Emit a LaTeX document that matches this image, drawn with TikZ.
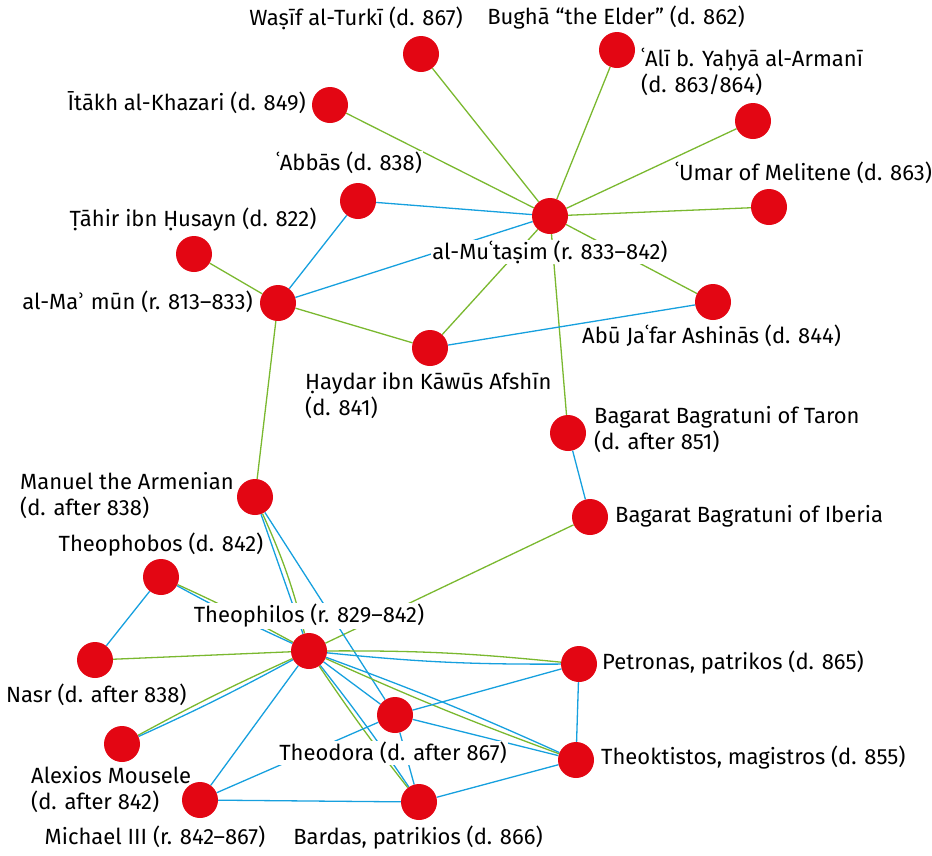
\documentclass[tikz,border=0pt]{standalone}
\usepackage{fontspec}
\setmainfont{Fira Sans}
\newfontfamily\dejavu{DejaVu Sans}
\usetikzlibrary{positioning}
\definecolor{dotred}{RGB}{227,6,19}
\definecolor{lgreen}{RGB}{122,184,47}
\definecolor{lblue}{RGB}{22,160,222}
\pgfdeclarelayer{background}
\pgfsetlayers{background,main}

\begin{document}
\begin{tikzpicture}[x=1pt, y=-1pt,
    person/.style={circle, fill=dotred, minimum size=36pt, inner sep=0pt},
    who/.style={fill=white, inner sep=1pt, font=\fontsize{22}{26}\selectfont, align=left},
    gline/.style={lgreen, line width=1.3pt},
    bline/.style={lblue, line width=1.3pt}]
    \useasboundingbox (0,0) rectangle (932,855);
    % the people
    \node (wasif) at (421,54) [person] {};
    \node (bugha) at (617,50) [person] {};
    \node (ali) at (753,121) [person] {};
    \node (itakh) at (330,105) [person] {};
    \node (abbas) at (358,201) [person] {};
    \node (tahir) at (194,254) [person] {};
    \node (mutasim) at (550,216) [person] {};
    \node (umar) at (769,207) [person] {};
    \node (abujafar) at (713,302) [person] {};
    \node (mamun) at (278,303) [person] {};
    \node (haydar) at (430,348) [person] {};
    \node (taron) at (568,433) [person] {};
    \node (iberia) at (590,517) [person] {};
    \node (manuel) at (255,497) [person] {};
    \node (theophobos) at (161,577) [person] {};
    \node (theophilos) at (309,651) [person] {};
    \node (nasr) at (95,660) [person] {};
    \node (alexios) at (122,744) [person] {};
    \node (michael) at (200,800) [person] {};
    \node (theodora) at (395,715) [person] {};
    \node (bardas) at (419,802) [person] {};
    \node (petronas) at (579,664) [person] {};
    \node (theoktistos) at (576,760) [person] {};

    \begin{pgfonlayer}{background}
    % Abbasid side
    \draw[gline] (mutasim) -- (wasif);
    \draw[gline] (mutasim) -- (bugha);
    \draw[gline] (mutasim) -- (ali);
    \draw[gline] (mutasim) -- (itakh);
    \draw[gline] (mutasim) -- (umar);
    \draw[gline] (mutasim) -- (abujafar);
    \draw[gline] (mutasim) -- (haydar);
    \draw[gline] (mutasim) -- (taron);
    \draw[bline] (mutasim) -- (abbas);
    \draw[bline] (mutasim) -- (mamun);
    \draw[gline] (mamun) -- (tahir);
    \draw[bline] (mamun) -- (abbas);
    \draw[gline] (mamun) -- (haydar);
    \draw[gline] (mamun) -- (manuel);
    \draw[bline] (haydar) -- (abujafar);
    \draw[bline] (taron) -- (iberia);

    % Byzantine side
    \draw[gline] (iberia) -- (theophilos);
    \draw[bline] (manuel) -- (theophilos);
    \draw[gline] (manuel) to[bend left=5] (theophilos);
    \draw[bline] (manuel) -- (theodora);
    \draw[gline] (theophobos) to[bend left=2] (theophilos);
    \draw[bline] (theophobos) to[bend right=2] (theophilos);
    \draw[bline] (theophobos) -- (nasr);
    \draw[gline] (nasr) -- (theophilos);
    \draw[gline] (alexios) to[bend left=2] (theophilos);
    \draw[bline] (alexios) to[bend right=2] (theophilos);
    \draw[bline] (michael) -- (theophilos);
    \draw[gline] (theophilos) to[bend left=3] (petronas);
    \draw[bline] (theophilos) to[bend right=3] (petronas);
    \draw[bline] (theophilos) -- (theodora);
    \draw[gline] (theophilos) to[bend right=2] (theoktistos);
    \draw[bline] (theophilos) to[bend left=2] (theoktistos);
    \draw[bline] (theophilos) to[bend left=2] (bardas);
    \draw[gline] (theophilos) to[bend right=2] (bardas);
    \draw[bline] (michael) -- (theodora);
    \draw[bline] (michael) -- (bardas);
    \draw[bline] (theodora) -- (bardas);
    \draw[bline] (theodora) -- (petronas);
    \draw[bline] (theodora) -- (theoktistos);
    \draw[bline] (petronas) -- (theoktistos);
    \draw[bline] (bardas) -- (theoktistos);

    % names
    \node (tWasif) at (356,18) [who] {Waṣīf al-Turkī (d. 867)};
    \node (tBugha) at (616,18) [who] {Bughā “the Elder” (d. 862)};
    \node (tAli) at (640,72) [who, anchor=west] {ʿAlī b. Yaḥyā al-Armanī\\(d. 863/864)};
    \node (tItakh) at (307,103) [who, anchor=east] {Ītākh al-Khazari (d. 849)};
    \node (tAbbas) at (349,163) [who] {ʿAbbās (d. 838)};
    \node (tTahir) at (193,220) [who] {Ṭāhir ibn Ḥusayn (d. 822)};
    \node (tMutasim) at (550,252) [who] {al-Muʿtaṣim (r. 833–842)};
    \node (tUmar) at (674,173) [who, anchor=west] {ʿUmar of Melitene (d. 863)};
    \node (tAbujafar) at (581,336) [who, anchor=west] {Abū Jaʿfar Ashinās (d. 844)};
    \node (tMamun) at (254,302) [who, anchor=east] {al-Ma{\dejavu ʾ} mūn (r. 813–833)};
    \node (tHaydar) at (304,396) [who, anchor=west] {Ḥaydar ibn Kāwūs Afshīn\\(d. 841)};
    \node (tTaron) at (593,430) [who, anchor=west] {Bagarat Bagratuni of Taron\\(d. after 851)};
    \node (tIberia) at (614,516) [who, anchor=west] {Bagarat Bagratuni of Iberia};
    \node (tManuel) at (19,496) [who, anchor=west] {Manuel the Armenian\\(d. after 838)};
    \node (tTheophobos) at (161,545) [who] {Theophobos (d. 842)};
    \node (tTheophilos) at (309,616) [who] {Theophilos (r. 829–842)};
    \node (tNasr) at (5,695) [who, anchor=west] {Nasr (d. after 838)};
    \node (tPetronas) at (601,663) [who, anchor=west] {Petronas, patrikos (d. 865)};
    \node (tTheodora) at (393,753) [who] {Theodora (d. after 867)};
    \node (tTheoktistos) at (600,758) [who, anchor=west] {Theoktistos, magistros (d. 855)};
    \node (tAlexios) at (30,790) [who, anchor=west] {Alexios Mousele\\(d. after 842)};
    \node (tMichael) at (155,837) [who] {Michael III (r. 842–867)};
    \node (tBardas) at (418,838) [who] {Bardas, patrikios (d. 866)};
    \end{pgfonlayer}
\end{tikzpicture}
\end{document}
